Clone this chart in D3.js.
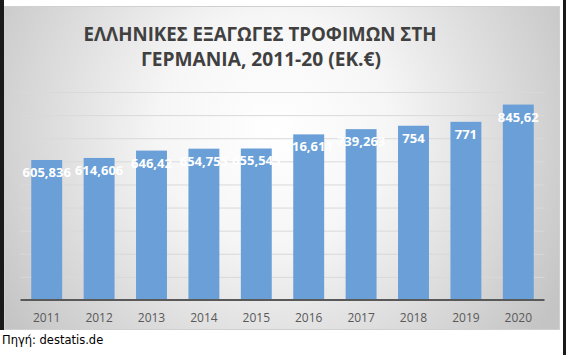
<!DOCTYPE html>
<html><head><meta charset="utf-8">
<script src="https://cdn.jsdelivr.net/npm/d3@7"></script>
<style>html,body{margin:0;padding:0;background:#fff;overflow:hidden}</style>
</head><body>
<script>
const years = ["2011","2012","2013","2014","2015","2016","2017","2018","2019","2020"];
const values = [605.836, 614.606, 646.42, 654.755, 655.545, 716.611, 739.263, 754, 771, 845.62];
const labels = ["605,836","614,606","646,42","654,755","655,545","716,611","739,263","754","771","845,62"];
const gridTicks = [100,200,300,400,500,600,700,800,900];
const titleLines = ["ΕΛΛΗΝΙΚΕΣ ΕΞΑΓΩΓΕΣ ΤΡΟΦΙΜΩΝ ΣΤΗ","ΓΕΡΜΑΝΙΑ, 2011-20 (ΕΚ.€)"];
const source = "Πηγή: destatis.de";

const W = 566, H = 355;
const svg = d3.select("body").append("svg").attr("width", W).attr("height", H);
const defs = svg.append("defs");
const grad = defs.append("radialGradient").attr("id","bg")
  .attr("gradientUnits","userSpaceOnUse").attr("cx",275).attr("cy",130).attr("r",330);
grad.append("stop").attr("offset","0%").attr("stop-color","#ffffff");
grad.append("stop").attr("offset","35%").attr("stop-color","#f6f6f6");
grad.append("stop").attr("offset","100%").attr("stop-color","#c4c4c4");

svg.append("rect").attr("x",0).attr("y",0).attr("width",4).attr("height",330).attr("fill","#1a1a1a");
svg.append("rect").attr("x",563).attr("y",0).attr("width",3).attr("height",H).attr("fill","#1a1a1a");
svg.append("rect").attr("x",4.5).attr("y",6.5).attr("width",555).attr("height",323)
  .attr("fill","url(#bg)").attr("stroke","#d0d0d0");

const x = d3.scaleBand().domain(years).range([20.5, 544.5]).paddingInner(0.41).paddingOuter(0.205);
const y = d3.scaleLinear().domain([0, 900]).range([300, 92]);

svg.append("g").selectAll("line").data(gridTicks).join("line")
  .attr("x1",20.5).attr("x2",544.5).attr("y1",d=>y(d)+0.5).attr("y2",d=>y(d)+0.5)
  .attr("stroke","#d9d9d9").attr("stroke-width",1);

svg.append("g").selectAll("rect").data(years).join("rect")
  .attr("x",d=>x(d)).attr("width",x.bandwidth())
  .attr("y",(d,i)=>y(values[i])).attr("height",(d,i)=>y(0)-y(values[i]))
  .attr("fill","#6a9fd7");

svg.append("g").selectAll("text").data(years).join("text")
  .attr("x",d=>x(d)+x.bandwidth()/2).attr("y",(d,i)=>y(values[i])+17)
  .attr("text-anchor","middle").attr("fill","#ffffff")
  .attr("font-family","'Open Sans', sans-serif").attr("font-weight","bold").attr("font-size","13px")
  .text((d,i)=>labels[i]);

const xAxis = svg.append("g").attr("transform","translate(0,300)")
  .call(d3.axisBottom(x).tickSize(0).tickPadding(13));
xAxis.select(".domain").attr("stroke","#595959").attr("stroke-width",2).attr("d","M20.5,0H544.5");
xAxis.selectAll("text").attr("font-family","'Open Sans', sans-serif").attr("font-size","12px").attr("fill","#595959");

const t = svg.append("g").attr("font-family","'Open Sans', sans-serif").attr("font-weight","bold")
  .attr("fill","#404040").attr("text-anchor","middle");
t.append("text").attr("x",260).attr("y",40.5).attr("font-size","19.5px")
  .attr("textLength",353).attr("lengthAdjust","spacingAndGlyphs").text(titleLines[0]);
t.append("text").attr("x",261).attr("y",65.5).attr("font-size","19.5px")
  .attr("textLength",240).attr("lengthAdjust","spacingAndGlyphs").text(titleLines[1]);

svg.append("text").attr("x",2).attr("y",344).attr("font-family","'DejaVu Sans', sans-serif")
  .attr("font-size","11.5px").attr("fill","#000").text(source);
</script>
</body></html>
